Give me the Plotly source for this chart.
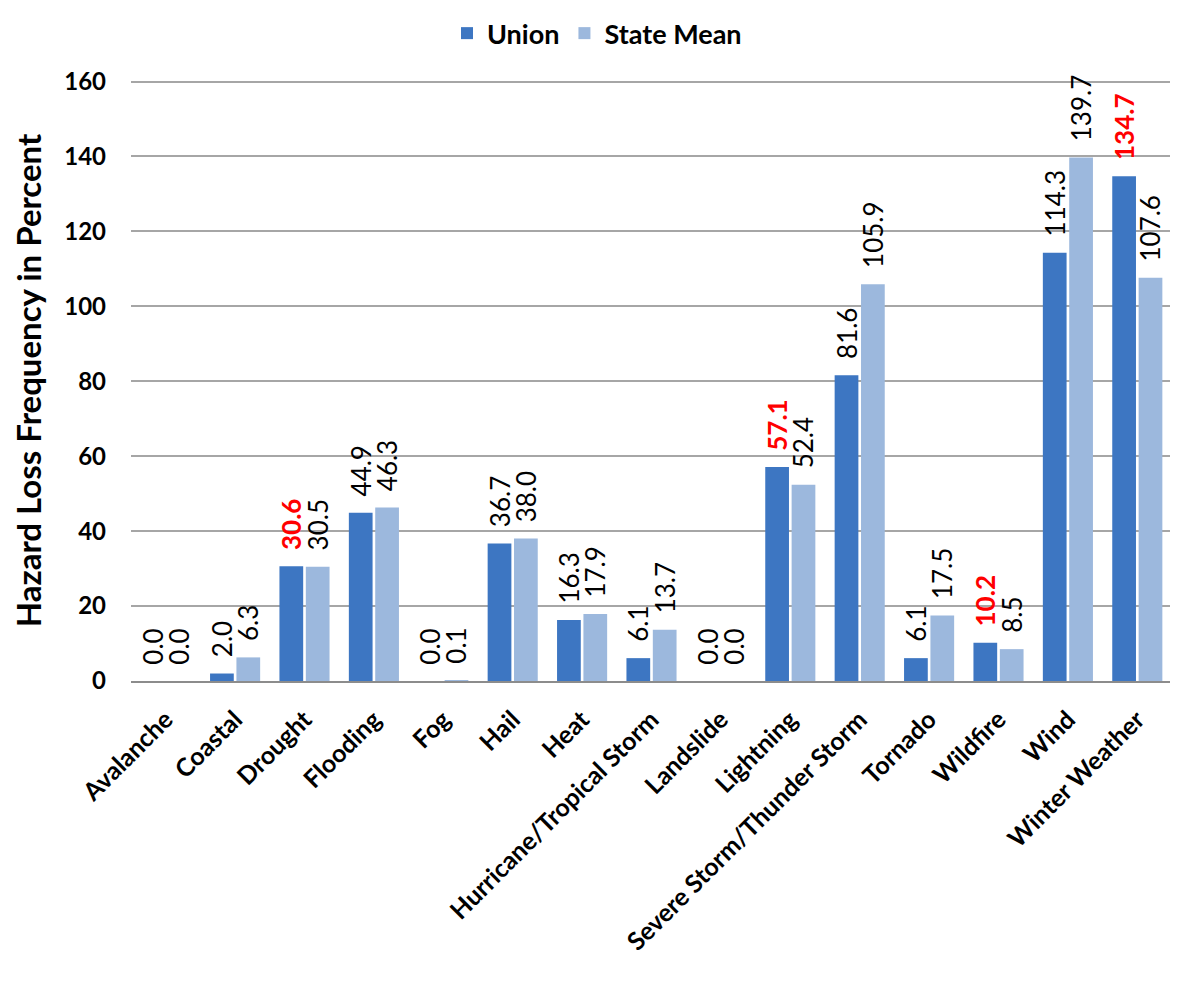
import plotly.graph_objects as go

categories = ["Avalanche", "Coastal", "Drought", "Flooding", "Fog", "Hail", "Heat",
              "Hurricane/Tropical Storm", "Landslide", "Lightning",
              "Severe Storm/Thunder Storm", "Tornado", "Wildfire", "Wind", "Winter Weather"]
union = [0.0, 2.0, 30.6, 44.9, 0.0, 36.7, 16.3, 6.1, 0.0, 57.1, 81.6, 6.1, 10.2, 114.3, 134.7]
state_mean = [0.0, 6.3, 30.5, 46.3, 0.1, 38.0, 17.9, 13.7, 0.0, 52.4, 105.9, 17.5, 8.5, 139.7, 107.6]
y_ticks = [0, 20, 40, 60, 80, 100, 120, 140, 160]

FONT = "Lato"
PAD = "\u00a0\u00a0"

union_text = []
union_colors = []
for u, s in zip(union, state_mean):
    if u > s:
        union_text.append(f"{PAD}<b>{u:.1f}</b>")
        union_colors.append("#FF0000")
    else:
        union_text.append(f"{PAD}{u:.1f}")
        union_colors.append("#000000")
state_text = [f"{PAD}{s:.1f}" for s in state_mean]

fig = go.Figure()
fig.add_trace(go.Bar(
    x=categories, y=union, name="Union",
    marker=dict(color="#3D76C2", line=dict(color="#2A5A9A", width=0)),
    text=union_text, textposition="outside", textangle=-90, constraintext="none",
    textfont=dict(family=FONT, size=26, color=union_colors),
    cliponaxis=False,
))
fig.add_trace(go.Bar(
    x=categories, y=state_mean, name="State Mean",
    marker=dict(color="#9CB8DD", line=dict(color="#7F9CC4", width=0)),
    text=state_text, textposition="outside", textangle=-90, constraintext="none",
    textfont=dict(family=FONT, size=26, color="#000000"),
    cliponaxis=False,
))

fig.update_layout(
    width=1178, height=984,
    paper_bgcolor="white", plot_bgcolor="white",
    barmode="group", bargap=0.24, bargroupgap=0.1,
    margin=dict(l=123, r=14, t=72, b=311, autoexpand=False),
    font=dict(family=FONT, color="#000000"),
    legend=dict(orientation="h", x=0.5, xanchor="center", xref="container",
                y=1.118, yanchor="top", yref="paper",
                font=dict(family=FONT, size=27, weight="bold"),
                itemwidth=30, traceorder="normal"),
)
fig.update_xaxes(
    tickangle=-45, tickfont=dict(family=FONT, size=25, weight="bold"),
    showline=True, linecolor="#8C8C8C", linewidth=2, ticks="",
    ticklabelstandoff=12,
    showgrid=False, automargin=False,
)
fig.update_yaxes(
    range=[0, 160.4], tickvals=y_ticks, ticks="", ticklabelstandoff=24,
    tickfont=dict(family=FONT, size=24, weight="bold"),
    showgrid=True, gridcolor="#A6A6A6", gridwidth=2, zeroline=False,
    showline=False, automargin=False,
    title=dict(text="Hazard Loss Frequency in Percent",
               font=dict(family=FONT, size=33, weight="bold"), standoff=27),
)
fig.write_html("out.html")
